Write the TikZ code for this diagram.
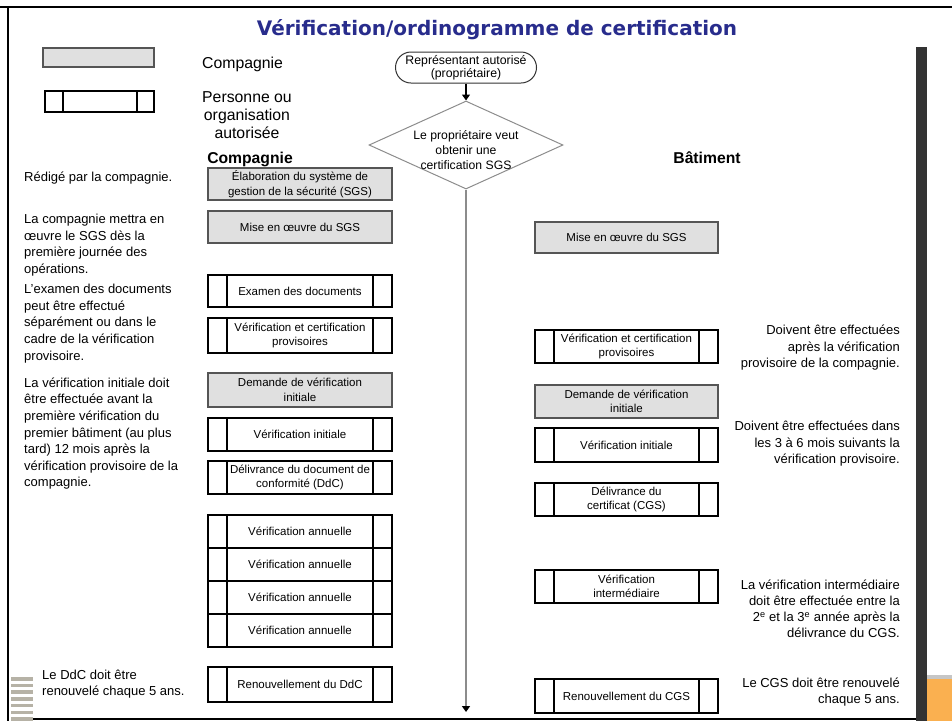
\documentclass[tikz,border=0pt]{standalone}
\usepackage{fontspec}
\setmainfont{Liberation Sans}
\newfontfamily\ttlfont{DejaVu Sans}
\usetikzlibrary{shapes.geometric,shapes.misc,arrows.meta}
\definecolor{titleblue}{RGB}{40,44,140}
\definecolor{boxgray}{RGB}{224,224,224}
\definecolor{boxedge}{RGB}{85,85,85}
\definecolor{barcol}{RGB}{51,51,51}
\definecolor{orangecol}{RGB}{250,176,80}
\definecolor{stripecol}{RGB}{182,178,166}
\definecolor{linegray}{RGB}{140,140,140}
\newcommand\bxfont{\fontsize{11.5}{14.5}\selectfont}
\newcommand\notefont{\fontsize{13}{16.6}\selectfont}
\newcommand\fstrut{\rule{0pt}{12pt}}
\tikzset{
  compbox/.style={draw=boxedge, fill=boxgray, line width=1.3pt, align=center, font=\bxfont, inner sep=0pt},
  procbox/.style={draw=black, fill=white, line width=1.8pt, align=center, font=\bxfont, inner sep=0pt,
    path picture={\draw[line width=1.8pt]
      ([xshift=19pt]path picture bounding box.north west) -- ([xshift=19pt]path picture bounding box.south west)
      ([xshift=-19pt]path picture bounding box.north east) -- ([xshift=-19pt]path picture bounding box.south east);}},
  lcol/.style={minimum width=184pt},
  rcol/.style={minimum width=183pt},
  lnote/.style={anchor=north west, inner sep=0pt, align=left, font=\notefont},
  rnote/.style={anchor=north east, inner sep=0pt, align=right, font=\notefont},
  tip/.style={-{Triangle[width=8pt,length=6pt,color=black]}}
}
\begin{document}
\begin{tikzpicture}[x=1pt,y=-1pt]
\useasboundingbox (0,0) rectangle (952,721);
% frame
\draw[line width=2.5pt] (0,7) -- (952,7);
\draw[line width=2.5pt] (8,7) -- (8,721);
\draw[line width=2.5pt] (33,719) -- (917,719);
\fill[barcol] (916,47) rectangle (927,721);
\fill[gray!45] (927,675) rectangle (952,679);
\fill[orangecol] (927,679) rectangle (952,721);
\foreach \k in {0,...,6} \fill[stripecol] (11,{677+6.7*\k}) rectangle (33,{680.5+6.7*\k});
% title
\node[anchor=base, inner sep=0pt, font=\ttlfont\bfseries\fontsize{20}{22}\selectfont, text=titleblue] (title) at (497,35) {Vérification/ordinogramme de certification};
% legend
\node[compbox, minimum width=111pt, minimum height=19pt] (legc) at (98.5,57.5) {};
\node[procbox, minimum width=109pt, minimum height=21pt, path picture={\draw[line width=1.8pt]
      ([xshift=18pt]path picture bounding box.north west) -- ([xshift=18pt]path picture bounding box.south west)
      ([xshift=-17pt]path picture bounding box.north east) -- ([xshift=-17pt]path picture bounding box.south east);}] (legp) at (99.5,101.5) {};
\node[anchor=base west, inner sep=0pt, font=\fontsize{15.8}{18}\selectfont] (legct) at (202,68.5) {Compagnie};
\node[anchor=north, inner sep=0pt, align=center, font=\fontsize{15.8}{18}\selectfont] (legpt) at (247,89) {\rule{0pt}{13.5pt}Personne ou\\organisation\\autorisée};
% headers
\node[anchor=base, inner sep=0pt, font=\bfseries\fontsize{15.7}{17}\selectfont] (hcomp) at (250,163) {Compagnie};
\node[anchor=base, inner sep=0pt, font=\bfseries\fontsize{15.7}{17}\selectfont] (hbat) at (707,163) {Bâtiment};
% center flow
\node[rounded rectangle, draw=black!80, line width=1pt, minimum width=141pt, minimum height=31pt, inner sep=0pt, align=center, font=\fontsize{12.3}{13.5}\selectfont] (term) at (466,67.5) {Représentant autorisé\\(propriétaire)};
\node[diamond, draw=linegray, line width=1pt, minimum width=194pt, minimum height=88pt, inner sep=0pt] (dia) at (466,145) {};
\node[inner sep=0pt, align=center, font=\fontsize{12.2}{15}\selectfont] (diat) at (466,150) {Le propriétaire veut\\obtenir une\\certification SGS};
\coordinate (flowend) at (466,712);
\draw[tip, line width=1.2pt, black] (term.south) -- (dia.north);
\draw[tip, line width=1.5pt, draw=linegray] (dia.south) -- (flowend);
% left column
\node[compbox, lcol, minimum height=32pt] (elab) at (300,184) {Élaboration du système de\\gestion de la sécurité (SGS)};
\node[compbox, lcol, minimum height=32pt] (mise1) at (300,227) {Mise en œuvre du SGS};
\node[procbox, lcol, minimum height=32pt] (exam) at (300,291) {Examen des documents};
\node[procbox, lcol, minimum height=35pt] (verif1) at (300,335.5) {Vérification et certification\\provisoires};
\node[compbox, lcol, minimum height=34pt] (dem1) at (300,390) {Demande de vérification\\initiale};
\node[procbox, lcol, minimum height=33pt] (init1) at (300,434.5) {Vérification initiale};
\node[procbox, lcol, minimum height=33pt] (deliv1) at (300,477.5) {Délivrance du document de\\conformité (DdC)};
\node[procbox, lcol, minimum height=33pt] (ann1) at (300,531.5) {Vérification annuelle};
\node[procbox, lcol, minimum height=33pt] (ann2) at (300,564.5) {Vérification annuelle};
\node[procbox, lcol, minimum height=33pt] (ann3) at (300,597.5) {Vérification annuelle};
\node[procbox, lcol, minimum height=33pt] (ann4) at (300,630.5) {Vérification annuelle};
\node[procbox, lcol, minimum height=35pt] (ren1) at (300,684.5) {Renouvellement du DdC};
% right column
\node[compbox, rcol, minimum height=31pt] (mise2) at (626.5,237.5) {Mise en œuvre du SGS};
\node[procbox, rcol, minimum height=33pt] (verif2) at (626.5,346.5) {Vérification et certification\\provisoires};
\node[compbox, rcol, minimum height=33pt] (dem2) at (626.5,401.5) {Demande de vérification\\initiale};
\node[procbox, rcol, minimum height=34pt] (init2) at (626.5,445) {Vérification initiale};
\node[procbox, rcol, minimum height=33pt] (deliv2) at (626.5,499.5) {Délivrance du\\certificat (CGS)};
\node[procbox, rcol, minimum height=33pt] (inter2) at (626.5,586.5) {Vérification\\intermédiaire};
\node[procbox, rcol, minimum height=34pt] (ren2) at (626.5,696) {Renouvellement du CGS};
% left notes
\node[lnote] (n1) at (24,169.5) {\fstrut Rédigé par la compagnie.};
\node[lnote] (n2) at (24,211.5) {\fstrut La compagnie mettra en\\œuvre le SGS dès la\\première journée des\\opérations.};
\node[lnote] (n3) at (24,281.5) {\fstrut L’examen des documents\\peut être effectué\\séparément ou dans le\\cadre de la vérification\\provisoire.};
\node[lnote] (n4) at (24,375) {\fstrut La vérification initiale doit\\être effectuée avant la\\première vérification du\\premier bâtiment (au plus\\tard) 12 mois après la\\vérification provisoire de la\\compagnie.};
\node[lnote, font=\fontsize{13}{15.5}\selectfont] (n5) at (42,667.5) {\fstrut Le DdC doit être\\renouvelé chaque 5 ans.};
% right notes
\node[rnote] (r1) at (900,322.5) {\fstrut Doivent être effectuées\\après la vérification\\provisoire de la compagnie.};
\node[rnote] (r2) at (900,418.5) {\fstrut Doivent être effectuées dans\\les 3 à 6 mois suivants la\\vérification provisoire.};
\node[rnote, font=\fontsize{13}{16}\selectfont] (r3) at (900,577.5) {\fstrut La vérification intermédiaire\\doit être effectuée entre la\\2\textsuperscript{e} et la 3\textsuperscript{e} année après la\\délivrance du CGS.};
\node[rnote, font=\fontsize{13}{16}\selectfont] (r4) at (900,675.5) {\fstrut Le CGS doit être renouvelé\\chaque 5 ans.};
\end{tikzpicture}
\end{document}
